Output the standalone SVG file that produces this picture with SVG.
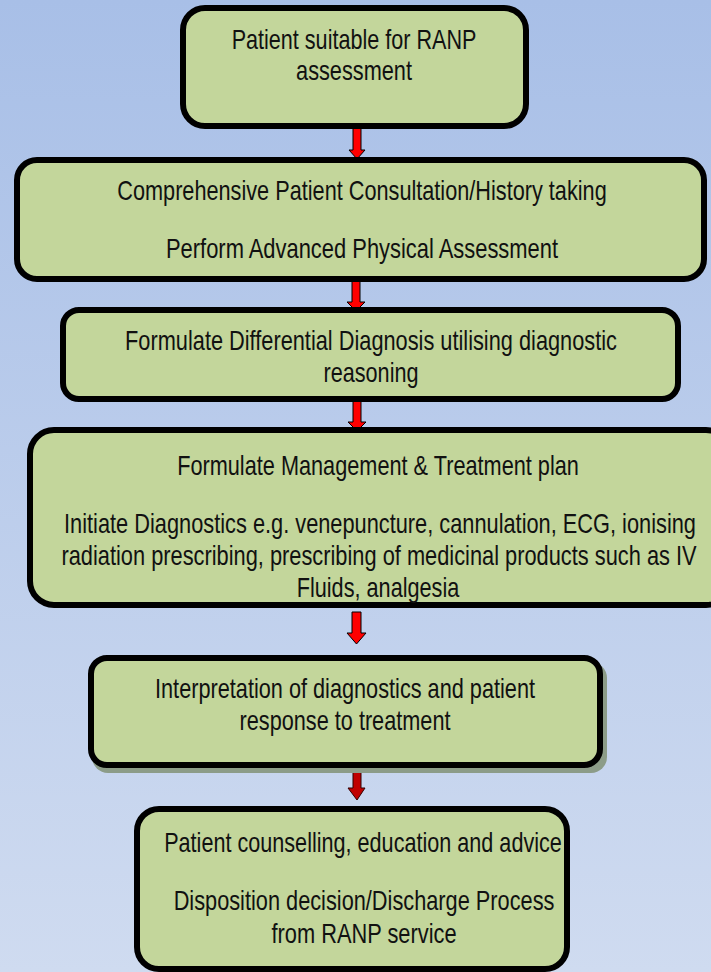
<svg xmlns="http://www.w3.org/2000/svg" width="711" height="972" viewBox="0 0 711 972">
<defs>
<linearGradient id="bg" x1="0" y1="0" x2="0" y2="1">
<stop offset="0" stop-color="#a8bfe7"/>
<stop offset="1" stop-color="#cfdbf0"/>
</linearGradient>
</defs>
<style>
.box{fill:#c3d69b;stroke:#000;stroke-width:6}
.shadow{fill:#8c9c88}
.t{font-family:"Liberation Sans Narrow","Arial Narrow","Liberation Sans",sans-serif;font-size:27px;fill:#111;text-anchor:middle}
.arr{fill:#ff0000;stroke:#000;stroke-width:1}
.arr2{fill:#c00000;stroke:#300;stroke-width:1}
</style>
<rect width="711" height="972" fill="url(#bg)"/>
<g id="connectors">
<polygon class="arr" points="353,126 361,126 361,150 365,150 357,159 349,150 353,150"/>
<polygon class="arr" points="352,280 360,280 360,302 365,302 356,311 347,302 352,302"/>
<polygon class="arr" points="353,400 361,400 361,422 366,422 357,431 348,422 353,422"/>
<polygon class="arr" points="352,612 361,612 361,633 366,633 356.5,644 347,633 352,633"/>
<polygon class="arr2" points="353,765 361,765 361,788 365,788 357,800 348,788 353,788"/>
</g>
<g id="n1">
<rect class="box" x="183" y="8" width="343" height="118" rx="22"/>
<text class="t" transform="translate(354,49) scale(0.805,1)" textLength="304" lengthAdjust="spacingAndGlyphs">Patient suitable for RANP</text>
<text class="t" transform="translate(354,80) scale(0.805,1)" textLength="144" lengthAdjust="spacingAndGlyphs">assessment</text>
</g>
<g id="n2">
<rect class="box" x="17" y="160" width="687" height="119" rx="20"/>
<text class="t" transform="translate(362,200) scale(0.805,1)" textLength="608" lengthAdjust="spacingAndGlyphs">Comprehensive Patient Consultation/History taking</text>
<text class="t" transform="translate(362,258) scale(0.805,1)" textLength="487" lengthAdjust="spacingAndGlyphs">Perform Advanced Physical Assessment</text>
</g>
<g id="n3">
<rect class="box" x="63" y="310" width="615" height="89" rx="16"/>
<text class="t" transform="translate(371,350) scale(0.805,1)" textLength="611" lengthAdjust="spacingAndGlyphs">Formulate Differential Diagnosis utilising diagnostic</text>
<text class="t" transform="translate(371,382) scale(0.805,1)" textLength="118" lengthAdjust="spacingAndGlyphs">reasoning</text>
</g>
<g id="n4">
<rect class="box" x="30" y="430" width="700" height="175" rx="24"/>
<text class="t" transform="translate(378,475) scale(0.805,1)" textLength="499" lengthAdjust="spacingAndGlyphs">Formulate Management &amp; Treatment plan</text>
<text class="t" transform="translate(380,533) scale(0.805,1)" textLength="785" lengthAdjust="spacingAndGlyphs">Initiate Diagnostics e.g. venepuncture, cannulation, ECG, ionising</text>
<text class="t" transform="translate(379,565) scale(0.805,1)" textLength="789" lengthAdjust="spacingAndGlyphs">radiation prescribing, prescribing of medicinal products such as IV</text>
<text class="t" transform="translate(378,597) scale(0.805,1)" textLength="202" lengthAdjust="spacingAndGlyphs">Fluids, analgesia</text>
</g>
<g id="n5">
<rect class="shadow" x="92" y="662" width="515" height="111" rx="16"/>
<rect class="box" x="91" y="658" width="509" height="107" rx="16"/>
<text class="t" transform="translate(345,698) scale(0.805,1)" textLength="472" lengthAdjust="spacingAndGlyphs">Interpretation of diagnostics and patient</text>
<text class="t" transform="translate(345,730) scale(0.805,1)" textLength="262" lengthAdjust="spacingAndGlyphs">response to treatment</text>
</g>
<g id="n6">
<rect class="box" x="137" y="809" width="430" height="160" rx="22"/>
<text class="t" transform="translate(363,852) scale(0.805,1)" textLength="494" lengthAdjust="spacingAndGlyphs">Patient counselling, education and advice</text>
<text class="t" transform="translate(364,910) scale(0.805,1)" textLength="473" lengthAdjust="spacingAndGlyphs">Disposition decision/Discharge Process</text>
<text class="t" transform="translate(364,943) scale(0.805,1)" textLength="230" lengthAdjust="spacingAndGlyphs">from RANP service</text>
</g>
</svg>
